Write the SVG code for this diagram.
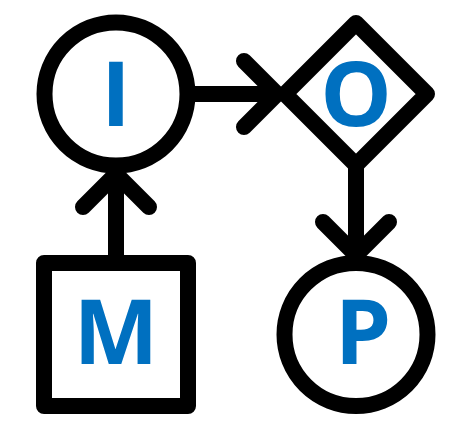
<svg xmlns="http://www.w3.org/2000/svg" width="456" height="439" viewBox="0 0 456 439">
<style>
.shape{fill:#fff;stroke:#000;stroke-width:16;stroke-linejoin:round}
.conn{fill:none;stroke:#000;stroke-width:16;stroke-linecap:round;stroke-linejoin:round}
.lbl{font-family:"Open Sans","Noto Sans","Liberation Sans",sans-serif;font-weight:bold;font-size:90px;fill:#0070C0;text-anchor:middle}
</style>
<rect width="456" height="439" fill="#fff"/>
<g id="connectors">
<path class="conn" d="M187 94 H276 M244 61 L277 94 L244 127"/>
<path class="conn" d="M116 263 V174 M83 207 L116 174 L149 207"/>
<path class="conn" d="M356 165 V255 M323 222 L356 255 L389 222"/>
</g>
<g id="node-I">
<circle class="shape" cx="116" cy="94" r="71.5"/>
<text class="lbl" x="116" y="126">I</text>
</g>
<g id="node-O">
<path class="shape" d="M356 23 L427 94 L356 165 L285 94 Z"/>
<text class="lbl" x="356" y="126">O</text>
</g>
<g id="node-M">
<rect class="shape" x="44" y="263" width="144" height="143"/>
<text class="lbl" x="116" y="364">M</text>
</g>
<g id="node-P">
<circle class="shape" cx="356" cy="334.5" r="71.5"/>
<text class="lbl" x="363" y="364">P</text>
</g>
</svg>
